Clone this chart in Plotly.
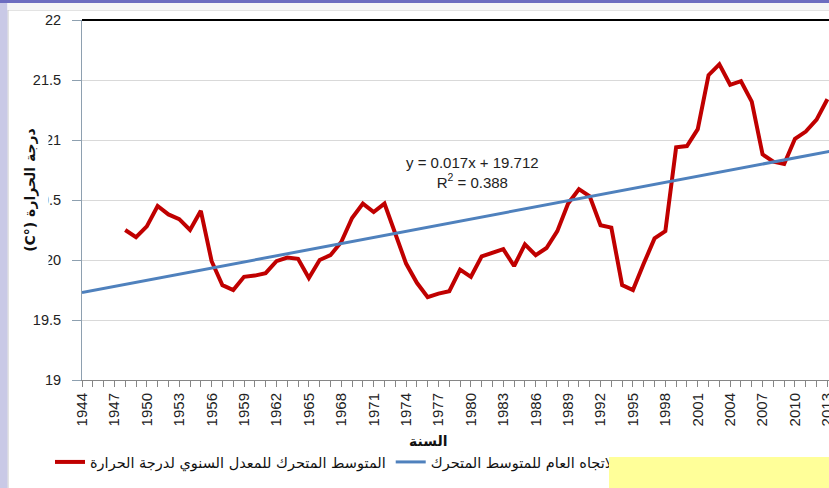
import plotly.graph_objects as go

# ---- data ----
ma_years = list(range(1948, 2014))
ma_values = [20.25, 20.19, 20.28, 20.45, 20.38, 20.34, 20.25, 20.41, 19.99, 19.79,
             19.75, 19.86, 19.87, 19.89, 19.99, 20.02, 20.01, 19.85, 20.00, 20.04,
             20.15, 20.35, 20.47, 20.40, 20.47, 20.22, 19.97, 19.81, 19.69, 19.72,
             19.74, 19.92, 19.86, 20.03, 20.06, 20.09, 19.95, 20.13, 20.04, 20.10,
             20.24, 20.47, 20.59, 20.53, 20.29, 20.27, 19.79, 19.75, 19.97, 20.18,
             20.24, 20.94, 20.95, 21.09, 21.54, 21.63, 21.46, 21.49, 21.32, 20.88,
             20.82, 20.80, 21.01, 21.07, 21.17, 21.34]
trend_slope = 0.017
trend_intercept = 19.712
trend_first_year = 1944
trend_years = [1944, 2014]
axis_years = list(range(1944, 2014))
tick_text = [str(y) if (y - 1944) % 3 == 0 else "" for y in axis_years]
y_ticks = [19, 19.5, 20, 20.5, 21, 21.5, 22]
y_tick_text = ["19", "19.5", "20", "20.5", "21", "21.5", "22"]

name_ma = "المتوسط المتحرك للمعدل السنوي لدرجة الحرارة"
name_trend = "خط الاتجاه العام للمتوسط المتحرك"
x_title = "السنة"
y_title = "(C°) درجة الحرارة"
eq_text = "y = 0.017x + 19.712<br>R<sup>2</sup> = 0.388"

trend_values = [trend_intercept + trend_slope * (y - trend_first_year + 1) for y in trend_years]

# ---- layout helpers (pixel -> paper) ----
W, H = 829, 488
ML, MR, MT, MB = 82, 0, 20, 108
PW, PH = W - ML - MR, H - MT - MB
def px(x):
    return (x - ML) / PW
def py(y):
    return (H - MB - y) / PH

fig = go.Figure()
fig.add_trace(go.Scatter(x=ma_years, y=ma_values, mode="lines", name=name_ma,
                         line=dict(color="#C00000", width=4)))
fig.add_trace(go.Scatter(x=trend_years, y=trend_values, mode="lines", name=name_trend,
                         line=dict(color="#4F81BD", width=3)))

fig.update_layout(
    width=W, height=H,
    margin=dict(l=ML, r=MR, t=MT, b=MB, autoexpand=False),
    paper_bgcolor="white", plot_bgcolor="white",
    showlegend=True,
    legend=dict(orientation="h", x=px(50), y=py(462), xanchor="left", yanchor="middle",
                font=dict(family="DejaVu Sans", size=14.5, color="#111"),
                bgcolor="rgba(0,0,0,0)", itemwidth=30),
    xaxis=dict(range=[1944, 2013.15], tickmode="array", tickvals=axis_years, ticktext=tick_text,
               tickangle=-90, ticks="outside", ticklen=6, tickcolor="#868686",
               showline=True, linecolor="#868686", linewidth=1, showgrid=False, zeroline=False,
               automargin=False, ticklabeloverflow="allow",
               tickfont=dict(family="Liberation Sans", size=15, color="#222")),
    yaxis=dict(range=[19, 22], tickmode="array", tickvals=y_ticks, ticktext=y_tick_text,
               ticks="outside", ticklen=9, tickcolor="#8EA0B0",
               showline=True, linecolor="#8EA0B0", linewidth=1,
               showgrid=True, gridcolor="#D9D9D9", gridwidth=1, zeroline=False,
               automargin=False, ticklabelstandoff=8,
               tickfont=dict(family="Liberation Sans", size=14.5, color="#222")),
)

shapes = [
    # top border line of plot
    dict(type="line", xref="paper", yref="paper", x0=0, x1=1, y0=1, y1=1,
         line=dict(color="#000000", width=2)),
    # chart area frame
    dict(type="rect", xref="paper", yref="paper", x0=px(8), x1=px(840), y0=py(500), y1=py(10),
         line=dict(color="#C8C8C8", width=1), fillcolor="rgba(0,0,0,0)", layer="below"),
    # left lavender strip
    dict(type="rect", xref="paper", yref="paper", x0=px(0), x1=px(7.5), y0=py(488), y1=py(0),
         line=dict(width=0), fillcolor="#C9C9E6", layer="below"),
    # top purple strip
    dict(type="rect", xref="paper", yref="paper", x0=px(0), x1=px(829), y0=py(3), y1=py(0),
         line=dict(width=0), fillcolor="#6C6CC0", layer="below"),
    dict(type="rect", xref="paper", yref="paper", x0=px(7.5), x1=px(829), y0=py(10), y1=py(3),
         line=dict(width=0), fillcolor="#F4F4F6", layer="below"),
]
fig.update_layout(shapes=shapes)

annotations = [
    dict(text=eq_text, xref="paper", yref="paper", x=px(473), y=py(172), showarrow=False,
         xanchor="center", yanchor="middle", align="center",
         font=dict(family="Liberation Sans", size=15, color="#222")),
    dict(text="<b>" + x_title + "</b>", xref="paper", yref="paper", x=px(428), y=py(441),
         showarrow=False, xanchor="center", yanchor="middle",
         font=dict(family="DejaVu Sans", size=14, color="#111")),
    dict(text="<b>" + y_title + "</b>", xref="paper", yref="paper", x=px(30), y=py(190),
         showarrow=False, xanchor="center", yanchor="middle", textangle=-90,
         width=158, height=35, bgcolor="white", borderpad=0,
         font=dict(family="DejaVu Sans", size=14, color="#111")),
    # yellow box covering bottom right
    dict(text=" ", xref="paper", yref="paper", x=px(609), y=py(457), showarrow=False,
         xanchor="left", yanchor="top", width=222, height=34, bgcolor="#FFFF99",
         borderpad=0, borderwidth=0),
]
fig.update_layout(annotations=annotations)

fig.write_html("out.html", config={"displayModeBar": False},
               post_script="document.body.style.margin='0';")
